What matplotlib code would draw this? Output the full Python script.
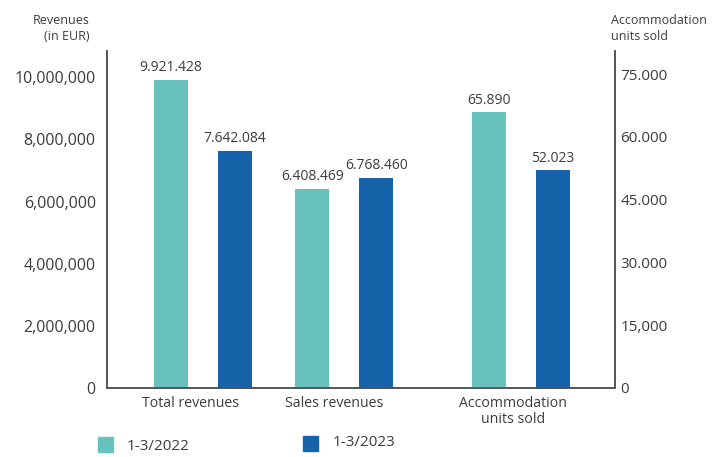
import matplotlib
matplotlib.use("Agg")
import matplotlib.pyplot as plt
from matplotlib.patches import Rectangle
from matplotlib.ticker import FuncFormatter

plt.rcParams['font.family'] = ['Open Sans', 'DejaVu Sans']

categories = ["Total revenues", "Sales revenues", "Accommodation\nunits sold"]
series_names = ["1-3/2022", "1-3/2023"]
revenues_2022 = [9921428, 6408469]
revenues_2023 = [7642084, 6768460]
units_2022 = [65890]
units_2023 = [52023]
left_ticks = [0, 2000000, 4000000, 6000000, 8000000, 10000000]
right_ticks = [0, 15000, 30000, 45000, 60000, 75000]
right_tick_labels = ["0", "15,000", "30.000", "45.000", "60.000", "75.000"]

teal = "#67c2be"
blue = "#1763a9"
text_col = "#3c3c3c"
spine_col = "#555555"

group_pos = [0.0, 1.0, 2.247]
label_pos = [-0.085, 0.926, 2.191]
offset = 0.226
width = 0.24

fig = plt.figure(figsize=(7.17, 4.57), dpi=100)
ax = fig.add_axes([0.1492, 0.151, 0.7085, 0.737])
ax2 = ax.twinx()

def dotted(v):
    return f"{v:,}".replace(",", ".")

# revenue bars on the left axis
for i, (a, b) in enumerate(zip(revenues_2022, revenues_2023)):
    x = group_pos[i]
    ax.bar(x - offset, a, width, color=teal)
    ax.bar(x + offset, b, width, color=blue)
    ax.text(x - offset, a + 150000, dotted(a), ha="center", va="bottom",
            fontsize=10, color=text_col)
    ax.text(x + offset, b + 150000, dotted(b), ha="center", va="bottom",
            fontsize=10, color=text_col)

# accommodation units on the right axis
for j, (a, b) in enumerate(zip(units_2022, units_2023)):
    x = group_pos[2 + j]
    ax2.bar(x - offset, a, width, color=teal)
    ax2.bar(x + offset, b, width, color=blue)
    ax2.text(x - offset, a + 1100, dotted(a), ha="center", va="bottom",
             fontsize=10, color=text_col)
    ax2.text(x + offset, b + 1100, dotted(b), ha="center", va="bottom",
             fontsize=10, color=text_col)

ax.set_xlim(-0.678, 2.912)
ax.set_ylim(0, 10840000)
ax2.set_ylim(0, 80500)

ax.set_yticks(left_ticks)
ax.yaxis.set_major_formatter(FuncFormatter(lambda v, p: f"{int(v):,}"))
ax2.set_yticks(right_ticks)
ax2.set_yticklabels(right_tick_labels)

ax.set_xticks(label_pos)
ax.set_xticklabels(categories, fontsize=10.2, color=text_col, linespacing=1.1)

ax.tick_params(axis="y", length=0, pad=8, labelsize=11.5, labelcolor=text_col)
ax.tick_params(axis="x", length=0, pad=6)
ax2.tick_params(axis="y", length=0, pad=4, labelsize=11, labelcolor=text_col)

for a in (ax, ax2):
    a.spines["top"].set_visible(False)
    for s in ("left", "right", "bottom"):
        a.spines[s].set_color(spine_col)
        a.spines[s].set_linewidth(1.2)

fig.text(0.1255, 0.969, "Revenues\n(in EUR)", ha="right", va="top",
         fontsize=9, color=text_col, linespacing=1.25, multialignment="right")
fig.text(0.852, 0.969, "Accommodation\nunits sold", ha="left", va="top",
         fontsize=9, color=text_col, linespacing=1.25)

# legend
H = 457.0
W = 717.0
fig.patches.append(Rectangle((98 / W, 1 - 452 / H), 15 / W, 15 / H,
                             transform=fig.transFigure, color=teal))
fig.text(127 / W, 1 - 447 / H, series_names[0], ha="left", va="center",
         fontsize=11, color=text_col)
fig.patches.append(Rectangle((303 / W, 1 - 451 / H), 15 / W, 15 / H,
                             transform=fig.transFigure, color=blue))
fig.text(333 / W, 1 - 443 / H, series_names[1], ha="left", va="center",
         fontsize=11, color=text_col)

fig.savefig("out.png", dpi=100)
